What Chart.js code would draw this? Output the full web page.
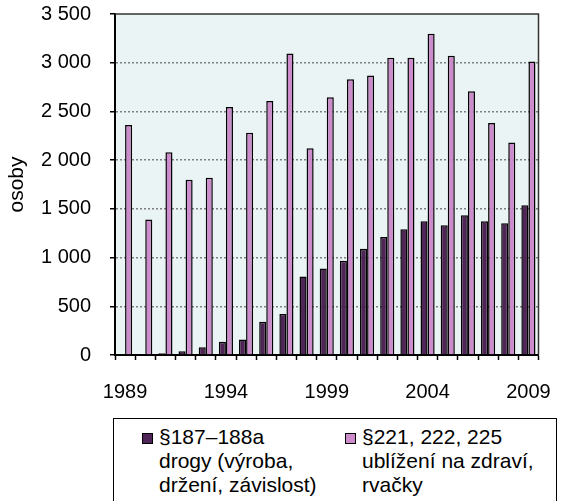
<!DOCTYPE html>
<html>
<head>
<meta charset="utf-8">
<script src="https://cdn.jsdelivr.net/npm/chart.js@4.4.1/dist/chart.umd.min.js"></script>
<style>
  html, body { margin: 0; padding: 0; background: #fff; }
  #wrap { position: relative; width: 571px; height: 501px; overflow: hidden; }
  #chartBox { position: absolute; left: 0; top: -17px; width: 571px; height: 427px; }
  #legend {
    position: absolute; left: 113px; top: 418px; width: 442px; height: 90px;
    border: 1px solid #000;
    font-family: "Liberation Sans", Arial, sans-serif; font-size: 21px; line-height: 24px; color: #000;
  }
  #legend .item { position: absolute; top: 0; }
  #legend .box { position: absolute; left: 0; top: 14px; width: 9px; height: 9px; border: 1px solid #000; }
  #legend .text { position: absolute; left: 17px; top: 6px; white-space: nowrap; }
</style>
</head>
<body>
<div id="wrap">
  <div id="chartBox"><canvas id="crimeChart"></canvas></div>
  <div id="legend"></div>
</div>
<script>
const years = ["1989", "1990", "1991", "1992", "1993", "1994", "1995", "1996", "1997", "1998", "1999",
  "2000", "2001", "2002", "2003", "2004", "2005", "2006", "2007", "2008", "2009"];

// §187–188a
const drugs = [0, 0, 17, 38, 79, 137, 158, 340, 422, 806, 888, 968, 1091, 1211, 1290, 1372, 1331, 1434, 1372, 1352, 1537];
// §221, 222, 225
const assault = [2360, 1390, 2080, 1800, 1820, 2545, 2282, 2608, 3095, 2121, 2646, 2831, 2869, 3050, 3050, 3297, 3071, 2707, 2381, 2182, 3013];

const drugsLabel = ["§187–188a", "drogy (výroba,", "držení, závislost)"];
const assaultLabel = ["§221, 222, 225", "ublížení na zdraví,", "rvačky"];

const yMax = 3500;
const yStep = 500;
const yTitle = "osoby";

const FONT = "'Liberation Sans', Arial, sans-serif";

const fmt = (v) => v >= 1000 ? Math.floor(v / 1000) + " " + String(v % 1000).padStart(3, "0") : String(v);

// pale fill behind the plot, dark frame on top/right
const plotFrame = {
  id: "plotFrame",
  beforeDraw(chart) {
    const { ctx, chartArea: a } = chart;
    ctx.save();
    ctx.fillStyle = "#eaf4f4";
    ctx.fillRect(a.left, a.top, a.right - a.left, a.bottom - a.top);
    ctx.restore();
  },
  afterDraw(chart) {
    const { ctx, chartArea: a } = chart;
    ctx.save();
    ctx.strokeStyle = "#333";
    ctx.lineWidth = 1.5;
    ctx.beginPath();
    ctx.moveTo(a.left, a.top);
    ctx.lineTo(a.right, a.top);
    ctx.lineTo(a.right, a.bottom);
    ctx.stroke();
    ctx.restore();
  }
};

const chart = new Chart(document.getElementById("crimeChart").getContext("2d"), {
  type: "bar",
  data: {
    labels: years,
    datasets: [
      {
        label: drugsLabel,
        data: drugs,
        backgroundColor: "#4f2456",
        borderColor: "#000",
        borderWidth: 1.5,
      },
      {
        label: assaultLabel,
        data: assault,
        backgroundColor: "#cc8ccc",
        borderColor: "#000",
        borderWidth: 1.5,
      },
    ],
  },
  options: {
    responsive: true,
    maintainAspectRatio: false,
    animation: false,
    layout: { padding: { top: 0, right: 14, bottom: 0, left: 0 } },
    datasets: {
      bar: { categoryPercentage: 0.7, barPercentage: 1.0 },
    },
    scales: {
      x: {
        afterFit: (scale) => { scale.height = 55; },
        grid: {
          drawOnChartArea: false,
          drawTicks: true,
          tickLength: 5,
          tickColor: "#000",
          tickWidth: 1.5,
          offset: true,
        },
        border: { color: "#000", width: 2 },
        ticks: {
          autoSkip: false,
          maxRotation: 0,
          padding: 20,
          color: "#000",
          font: { family: FONT, size: 20 },
          callback: (v, i) => (i % 5 === 0 ? years[i] : ""),
        },
      },
      y: {
        min: 0,
        max: yMax,
        afterFit: (scale) => { scale.width = 115; },
        grid: {
          color: (c) => (c.tick && (c.tick.value === 0 || c.tick.value === yMax) ? "rgba(0,0,0,0)" : "#808080"),
          lineWidth: 1.5,
          tickLength: 5,
          tickColor: "#000",
          tickWidth: 1.5,
        },
        border: { color: "#000", width: 2, dash: [2, 2] },
        ticks: {
          stepSize: yStep,
          padding: 19,
          color: "#000",
          font: { family: FONT, size: 20 },
          callback: (v) => fmt(v),
        },
        title: {
          display: true,
          text: yTitle,
          color: "#000",
          font: { family: FONT, size: 21 },
          padding: { top: 5, bottom: 0 },
        },
      },
    },
    plugins: {
      legend: { display: false },
      tooltip: { enabled: false },
    },
  },
  plugins: [plotFrame],
});

// legend with wrapped labels, built from the datasets
const legendEl = document.getElementById("legend");
const itemLeft = [28, 231];
chart.data.datasets.forEach((ds, i) => {
  const item = document.createElement("div");
  item.className = "item";
  item.style.left = itemLeft[i] + "px";
  const box = document.createElement("div");
  box.className = "box";
  box.style.background = ds.backgroundColor;
  const text = document.createElement("div");
  text.className = "text";
  text.innerHTML = ds.label.join("<br>");
  item.appendChild(box);
  item.appendChild(text);
  legendEl.appendChild(item);
});
</script>
</body>
</html>
